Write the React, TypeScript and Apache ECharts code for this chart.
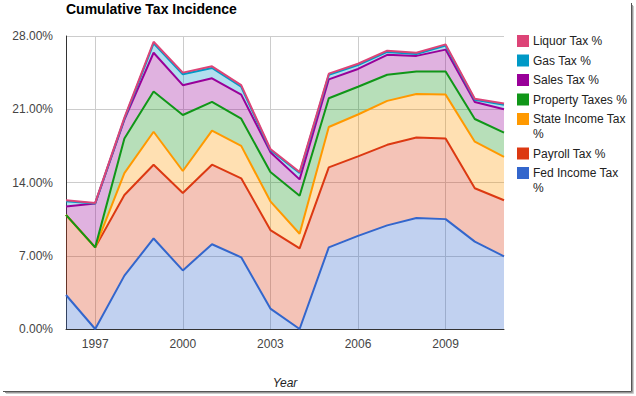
import React, { useEffect, useRef } from "react";
import * as echarts from "echarts";

const years = ["1996","1997","1998","1999","2000","2001","2002","2003","2004","2005","2006","2007","2008","2009","2010","2011"];

const fedIncome = [3.25, 0, 5.1, 8.65, 5.6, 8.1, 6.85, 1.95, 0, 7.8, 8.9, 9.9, 10.6, 10.5, 8.35, 6.95];
const payroll = [7.65, 7.8, 7.7, 7.05, 7.4, 7.6, 7.55, 7.5, 7.7, 7.65, 7.6, 7.7, 7.7, 7.7, 5.1, 5.35];
const stateIncome = [0, 0, 2.1, 3.15, 2.1, 3.25, 3.1, 2.75, 1.4, 3.85, 4.0, 4.2, 4.15, 4.2, 4.45, 4.15];
const property = [0, 0, 3.3, 3.85, 5.35, 2.75, 2.6, 2.8, 3.64, 2.75, 2.65, 2.5, 2.15, 2.2, 2.17, 2.31];
const sales = [0.8, 4.2, 1.8, 3.7, 2.85, 2.26, 2.3, 1.9, 1.56, 1.81, 1.7, 1.9, 1.5, 2.1, 1.63, 2.24];
const gas = [0.5, 0, 0.1, 0.9, 1.05, 0.99, 0.75, 0.2, 0.6, 0.42, 0.38, 0.28, 0.18, 0.38, 0.2, 0.43];
const liquor = [0.1, 0.05, 0.1, 0.15, 0.15, 0.15, 0.15, 0.1, 0.1, 0.12, 0.12, 0.12, 0.12, 0.12, 0.1, 0.12];

const seriesNames = ["Fed Income Tax %", "Payroll Tax %", "State Income Tax %", "Property Taxes %", "Sales Tax %", "Gas Tax %", "Liquor Tax %"];
const legendLabels = ["Fed Income Tax\n%", "Payroll Tax %", "State Income Tax\n%", "Property Taxes %", "Sales Tax %", "Gas Tax %", "Liquor Tax %"];
const seriesData = [fedIncome, payroll, stateIncome, property, sales, gas, liquor];
const seriesColors = ["#3366cc", "#dc3912", "#ff9900", "#109618", "#990099", "#0099c6", "#dd4477"];

const yTicks = { min: 0, max: 28, interval: 7 };
const xLabelYears = ["1997", "2000", "2003", "2006", "2009"];

const FONT = "'Liberation Sans', Arial, sans-serif";

export default function App() {
  const ref = useRef<HTMLDivElement>(null);

  useEffect(() => {
    document.body.style.margin = "0";
    if (!ref.current) return;
    const chart = echarts.init(ref.current, null, { renderer: "svg" });

    // filled areas (below), then lines on top of every area
    const areaSeries = seriesNames.map((name, i) => ({
      name,
      type: "line",
      stack: "areas",
      data: seriesData[i],
      showSymbol: false,
      symbol: "none",
      lineStyle: { width: 0, opacity: 0 },
      itemStyle: { color: seriesColors[i] },
      areaStyle: { color: seriesColors[i], opacity: 0.3 },
      z: 2,
    }));
    const lineSeries = seriesNames.map((name, i) => ({
      name: name + " line",
      type: "line",
      stack: "lines",
      data: seriesData[i],
      showSymbol: false,
      symbol: "none",
      lineStyle: { color: seriesColors[i], width: 2 },
      itemStyle: { color: seriesColors[i] },
      z: 5,
    }));

    const legendEls: any[] = [];
    let cy = 41;
    for (let k = seriesNames.length - 1; k >= 0; k--) {
      const lines = legendLabels[k].split("\n").length;
      legendEls.push({
        type: "rect",
        shape: { x: 517, y: cy - 6, width: 12, height: 12 },
        style: { fill: seriesColors[k] },
      });
      legendEls.push({
        type: "text",
        x: 533,
        y: cy - 7.5,
        style: {
          text: legendLabels[k],
          font: `12px ${FONT}`,
          fill: "#222222",
          lineHeight: 15,
          verticalAlign: "top",
          align: "left",
        },
      });
      cy += 19.5 + (lines - 1) * 15;
    }

    const option: any = {
      animation: false,
      backgroundColor: "#ffffff",
      title: {
        text: "Cumulative Tax Incidence",
        left: 66,
        top: 2,
        padding: 0,
        textStyle: { fontSize: 14, fontWeight: "bold", color: "#000000", fontFamily: FONT },
      },
      grid: { left: 66, right: 132, top: 36, bottom: 67, containLabel: false },
      xAxis: {
        type: "category",
        data: years,
        boundaryGap: false,
        name: "Year",
        nameLocation: "middle",
        nameGap: 48,
        nameTextStyle: { fontStyle: "italic", fontSize: 12, color: "#222222", fontFamily: FONT },
        axisLine: { show: true, lineStyle: { color: "#333333", width: 1 } },
        axisTick: { show: false },
        axisLabel: {
          interval: (_i: number, v: string) => xLabelYears.includes(v),
          color: "#444444",
          fontSize: 12,
          fontFamily: FONT,
          margin: 9,
        },
        splitLine: {
          show: true,
          interval: (_i: number, v: string) => xLabelYears.includes(v),
          lineStyle: { color: "#cccccc", width: 1 },
        },
      },
      yAxis: {
        type: "value",
        min: yTicks.min,
        max: yTicks.max,
        interval: yTicks.interval,
        axisLine: { show: true, lineStyle: { color: "#333333", width: 1 } },
        axisTick: { show: false },
        axisLabel: {
          formatter: (v: number) => v.toFixed(2) + "%",
          color: "#444444",
          fontSize: 12,
          fontFamily: FONT,
          margin: 13,
        },
        splitLine: { show: true, lineStyle: { color: "#cccccc", width: 1 } },
      },
      series: [...areaSeries, ...lineSeries],
      graphic: [
        ...legendEls,
        { type: "line", shape: { x1: 631.5, y1: 3, x2: 631.5, y2: 391.5 }, style: { stroke: "#555555", lineWidth: 1 } },
        { type: "line", shape: { x1: 3, y1: 391.5, x2: 631.5, y2: 391.5 }, style: { stroke: "#555555", lineWidth: 1 } },
        { type: "line", shape: { x1: 632.5, y1: 5, x2: 632.5, y2: 392.5 }, style: { stroke: "#999999", lineWidth: 1 } },
        { type: "line", shape: { x1: 5, y1: 392.5, x2: 632.5, y2: 392.5 }, style: { stroke: "#999999", lineWidth: 1 } },
        { type: "line", shape: { x1: 633.5, y1: 6, x2: 633.5, y2: 393.5 }, style: { stroke: "#cccccc", lineWidth: 1 } },
        { type: "line", shape: { x1: 6, y1: 393.5, x2: 633.5, y2: 393.5 }, style: { stroke: "#cccccc", lineWidth: 1 } },
      ],
    };

    chart.setOption(option);
    return () => chart.dispose();
  }, []);

  return <div ref={ref} style={{ width: 636, height: 396 }} />;
}
